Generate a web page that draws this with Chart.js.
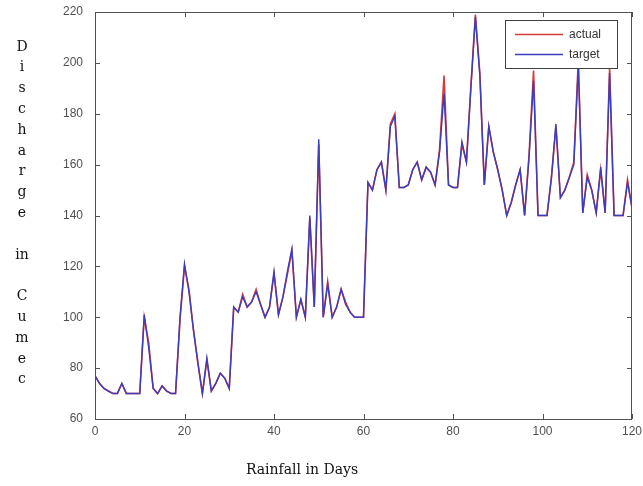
<!DOCTYPE html>
<html>
<head>
<meta charset="utf-8">
<script src="https://cdn.jsdelivr.net/npm/chart.js@4.4.1/dist/chart.umd.min.js"></script>
<style>
html,body{margin:0;padding:0;background:#fff;}
#wrap{width:643px;height:486px;position:relative;}
</style>
</head>
<body>
<div id="wrap"><canvas id="c" width="643" height="486"></canvas></div>
<script>
const days = Array.from({length:121},(_, i)=>i);
const target = [
 77,74,72,71,70,70,74,70,70,70,
 70,101,88,72,70,73,71,70,70,100,
 121,110,95,82,70,84,71,74,78,76,
 72,104,102,108,104,106,110,105,100,104,
 118,101,108,118,127,100,107,100,140,104,
 170,100,113,100,104,111,105,102,100,100,
 100,153,150,158,161,150,175,179,151,151,
 152,158,161,154,159,157,152,165,188,152,
 151,151,169,161,190,218,195,152,175,165,
 158,150,140,145,152,158,140,163,193,140,
 140,140,155,176,147,150,155,160,199,141,
 155,150,141,159,141,196,140,140,140,153,
 143];
const actual = [
 77,74,72,71,70,70,74,70,70,70,
 70,100,90,72,70,73,71,70,70,99,
 120,111,95,82,70,83,71,74,78,76,
 72,104,102,109,104,106,111,105,100,104,
 117,101,108,117,126,100,107,100,139,104,
 168,100,114,100,104,111,106,102,100,100,
 100,153,150,158,161,150,176,180,151,151,
 152,158,161,154,159,157,152,166,195,152,
 151,151,168,161,191,219,196,152,175,165,
 158,150,140,145,152,158,140,164,197,140,
 140,140,155,175,147,150,155,161,201,141,
 156,150,141,158,141,198,140,140,140,154,
 143];
const xTicks = [0,20,40,60,80,100,120];
const yTicks = [60,80,100,120,140,160,180,200,220];
const seriesNames = ['actual','target'];
const seriesColors = ['#d83a3a','#3c3cbe'];
const yTitleLines = ['D','i','s','c','h','a','r','g','e','','in','','C','u','m','e','c'];
const xTitle = 'Rainfall in Days';

const decor = {
  id:'decor',
  afterDraw(chart){
    const {ctx, chartArea:a, scales:{x,y}} = chart;
    ctx.save();
    ctx.strokeStyle='#505050'; ctx.lineWidth=1;
    ctx.strokeRect(a.left+0.5, a.top+0.5, a.right-a.left-1, a.bottom-a.top);
    ctx.beginPath();
    xTicks.forEach(v=>{
      const px=Math.round(x.getPixelForValue(v))+0.5;
      ctx.moveTo(px,a.bottom); ctx.lineTo(px,a.bottom-5);
      ctx.moveTo(px,a.top); ctx.lineTo(px,a.top+5);
    });
    yTicks.forEach(v=>{
      const py=Math.round(y.getPixelForValue(v))+0.5;
      ctx.moveTo(a.left,py); ctx.lineTo(a.left+5,py);
      ctx.moveTo(a.right,py); ctx.lineTo(a.right-5,py);
    });
    ctx.stroke();
    // legend
    const lx=505, ly=20, lw=112, lh=48;
    ctx.fillStyle='#fff'; ctx.fillRect(lx,ly,lw,lh);
    ctx.strokeStyle='#404040'; ctx.strokeRect(lx+0.5,ly+0.5,lw,lh);
    ctx.font='12px "Liberation Sans", Arial, sans-serif';
    ctx.textBaseline='middle'; ctx.textAlign='left';
    seriesNames.forEach((n,i)=>{
      const yy=ly+14+i*20;
      ctx.strokeStyle=seriesColors[i]; ctx.lineWidth=1.3;
      ctx.beginPath(); ctx.moveTo(lx+10,yy+0.5); ctx.lineTo(lx+58,yy+0.5); ctx.stroke();
      ctx.fillStyle='#333'; ctx.fillText(n,lx+64,yy+1);
    });
    // titles
    ctx.fillStyle='#111';
    ctx.font='14px "DejaVu Serif", serif';
    ctx.textAlign='center'; ctx.textBaseline='middle';
    yTitleLines.forEach((t,i)=>{ if(t) ctx.fillText(t,22,47+i*20.8); });
    ctx.fillText(xTitle,302,470);
    ctx.restore();
  }
};

new Chart(document.getElementById('c'),{
  type:'line',
  data:{
    datasets:[
      {label:seriesNames[0], data:days.map((d,i)=>({x:d,y:actual[i]})), borderColor:seriesColors[0], borderWidth:1.6, pointRadius:0, tension:0, order:1},
      {label:seriesNames[1], data:days.map((d,i)=>({x:d,y:target[i]})), borderColor:seriesColors[1], borderWidth:1.4, pointRadius:0, tension:0, order:0}
    ]
  },
  options:{
    responsive:false, animation:false,
    layout:{padding:{left:0,top:12,right:11,bottom:0}},
    plugins:{legend:{display:false}, tooltip:{enabled:false}},
    scales:{
      x:{type:'linear', min:0, max:120,
         afterFit(s){ s.height=67; s.paddingLeft=0; s.paddingRight=0; },
         afterBuildTicks(s){ s.ticks = xTicks.map(v=>({value:v})); },
         grid:{display:false, drawTicks:false}, border:{display:false},
         ticks:{color:'#505050', padding:5, maxRotation:0, font:{family:'"Liberation Sans", Arial, sans-serif', size:12}}},
      y:{min:60, max:220,
         afterFit(s){ s.width=95; s.paddingTop=0; s.paddingBottom=0; },
         afterBuildTicks(s){ s.ticks = yTicks.map(v=>({value:v})); },
         grid:{display:false, drawTicks:false}, border:{display:false},
         ticks:{color:'#505050', padding:12, font:{family:'"Liberation Sans", Arial, sans-serif', size:12}}}
    }
  },
  plugins:[decor]
});
</script>
</body>
</html>
